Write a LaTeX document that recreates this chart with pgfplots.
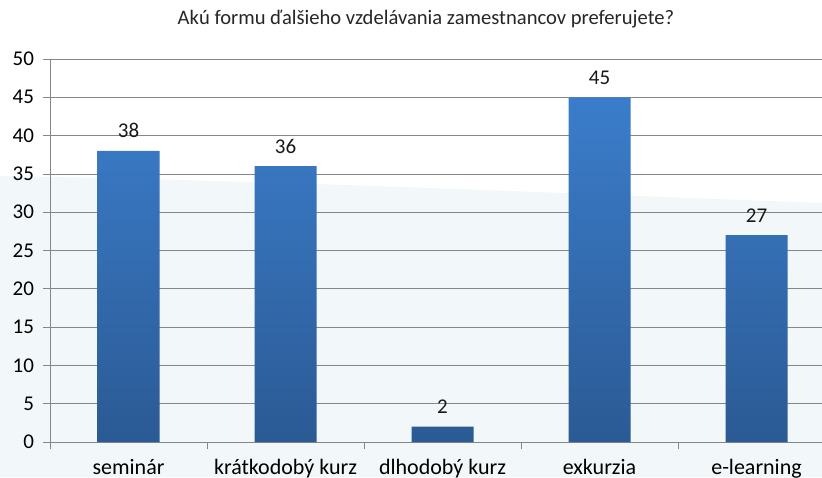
\documentclass[border=0pt]{standalone}
\usepackage{pgfplots}
\pgfplotsset{compat=1.18}
\usepackage{fontspec}
\setmainfont{Carlito}
\definecolor{barTop}{HTML}{3B7DCB}
\definecolor{barBot}{HTML}{2B5A94}
\definecolor{gridgray}{HTML}{868686}
\definecolor{floor}{HTML}{F2F8FA}
\begin{document}
\begin{tikzpicture}
  % 1px of the reference = 0.5pt
  \clip (0,0) rectangle (411pt,238.5pt);
  \fill[floor] (0,0) -- (0,150.5pt) .. controls (150pt,148pt) and (300pt,141pt) .. (411pt,137pt) -- (411pt,0) -- cycle;
  \node[font=\fontsize{10.3}{12}\selectfont, text=black!85] at (213pt,229pt)
    {Akú formu ďalšieho vzdelávania zamestnancov preferujete?};
  \begin{axis}[
    at={(25pt,17.5pt)}, anchor=south west,
    scale only axis,
    width=392.5pt, height=191.5pt,
    xmin=-0.5, xmax=4.5,
    ymin=0, ymax=50,
    ytick={0,5,...,50},
    xtick={0,1,2,3,4},
    xticklabels={seminár,krátkodobý kurz,dlhodobý kurz,exkurzia,e-learning},
    minor xtick={-0.5,0.5,1.5,2.5,3.5,4.5},
    major x tick style={draw=none},
    tick align=outside,
    tick style={gridgray, thin},
    major tick length=3.5pt,
    minor tick length=3.5pt,
    axis x line*=bottom,
    axis y line*=left,
    axis line style={gridgray, thin},
    ymajorgrids,
    grid style={gridgray, thin},
    ticklabel style={font=\fontsize{10.5}{12}\selectfont, text=black},
    xticklabel style={font=\fontsize{11}{12}\selectfont, yshift=-1.5pt},
    /pgf/number format/assume math mode=true,
    yticklabel style={xshift=-1pt},
    nodes near coords,
    every node near coord/.append style={font=\fontsize{10.5}{12}\selectfont, text=black!90, yshift=3pt},
  ]
    \addplot[ybar, bar width=31pt, draw=none, top color=barTop, bottom color=barBot]
      coordinates {(0,38) (1,36) (2,2) (3,45) (4,27)};
  \end{axis}
\end{tikzpicture}
\end{document}
